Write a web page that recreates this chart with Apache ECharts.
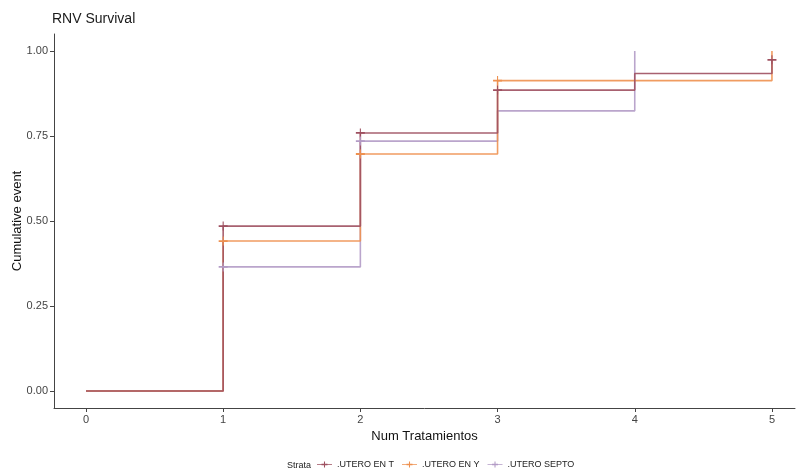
<!DOCTYPE html>
<html>
<head>
<meta charset="utf-8">
<script src="https://cdn.jsdelivr.net/npm/echarts@6/dist/echarts.min.js"></script>
<style>html,body{margin:0;padding:0;background:#fff}#c{width:796px;height:474px}</style>
</head>
<body>
<div id="c"></div>
<script>
const strata = ['.UTERO EN T', '.UTERO EN Y', '.UTERO SEPTO'];
const colors = ['#9E5060', '#EE9150', '#B39BC6'];
const timesT = [0, 1, 2, 3, 4, 5];
const valsT = [0, 0.485, 0.759, 0.885, 0.934, 0.974];
const timesY = [0, 1, 2, 3, 5];
const valsY = [0, 0.441, 0.697, 0.913, 1.0];
const timesS = [0, 1, 2, 3, 4];
const valsS = [0, 0.365, 0.735, 0.824, 1.0];
const censorT = [[1, 0.485], [2, 0.759], [3, 0.885], [5, 0.974]];
const censorY = [[1, 0.441], [2, 0.697], [3, 0.913]];
const censorS = [[1, 0.365], [2, 0.735]];
const xTicks = [0, 1, 2, 3, 4, 5];
const yTicks = [0, 0.25, 0.5, 0.75, 1.0];

const plus = 'path://M0,4.3H10V5.7H0Z M4.4,1.5H5.6V8.5H4.4Z';
const legendIcon = 'path://M0,4.5H20V5.5H0Z M9.3,1H10.7V9H9.3Z M6,4H14V6H6Z';

const chart = echarts.init(document.getElementById('c'));
const lineSets = [[timesT, valsT], [timesY, valsY], [timesS, valsS]];
const censors = [censorT, censorY, censorS];
const series = [];
lineSets.forEach((s, i) => {
  series.push({
    name: strata[i], type: 'line', step: 'end', showSymbol: false, symbol: 'none',
    data: s[0].map((t, k) => [t, s[1][k]]),
    lineStyle: { color: colors[i], width: 1.6, opacity: 0.9 },
    itemStyle: { color: colors[i] },
    z: 3 - i, silent: true, animation: false
  });
});
censors.forEach((c, i) => {
  series.push({
    name: strata[i], type: 'scatter', data: c, symbol: plus, symbolSize: 9,
    itemStyle: { color: colors[i], opacity: 1 }, z: 5, animation: false, silent: true
  });
});

const font = 'Liberation Sans, Arial';
chart.setOption({
  animation: false,
  title: { text: 'RNV Survival', left: 47, top: 7, textStyle: { fontSize: 14, fontWeight: 'normal', color: '#1a1a1a', fontFamily: font } },
  grid: { left: 54, right: 1, top: 34, bottom: 66, containLabel: false, outerBoundsMode: 'none' },
  legend: {
    bottom: 0, left: 312, itemWidth: 15, itemHeight: 9, itemGap: 8,
    data: strata.map((s, i) => ({ name: s, icon: legendIcon, itemStyle: { color: colors[i] } })),
    textStyle: { fontSize: 9, color: '#222', fontFamily: font }
  },
  graphic: [{ type: 'text', left: 287, bottom: 4, style: { text: 'Strata', fontSize: 9, fill: '#222', fontFamily: font } }],
  xAxis: {
    type: 'value', min: -0.233, max: 5.168,
    name: 'Num Tratamientos', nameLocation: 'middle', nameGap: 22, nameMoveOverlap: false,
    nameTextStyle: { fontSize: 13, color: '#111', fontFamily: font },
    axisLine: { show: true, onZero: false, lineStyle: { color: '#444', width: 1 } },
    axisTick: { show: true, length: 4, customValues: xTicks, lineStyle: { color: '#444' } },
    axisLabel: { customValues: xTicks, fontSize: 11, color: '#444', margin: 6, fontFamily: font },
    splitLine: { show: false }
  },
  yAxis: {
    type: 'value', min: -0.05, max: 1.05,
    name: 'Cumulative event', nameLocation: 'middle', nameGap: 30, nameRotate: 90, nameMoveOverlap: false,
    nameTextStyle: { fontSize: 13, color: '#111', fontFamily: font },
    axisLine: { show: true, onZero: false, lineStyle: { color: '#444', width: 1 } },
    axisTick: { show: true, length: 4, customValues: yTicks, lineStyle: { color: '#444' } },
    axisLabel: { customValues: yTicks, fontSize: 11, color: '#444', margin: 6, formatter: v => v.toFixed(2), fontFamily: font },
    splitLine: { show: false }
  },
  series: series
});
</script>
</body>
</html>
